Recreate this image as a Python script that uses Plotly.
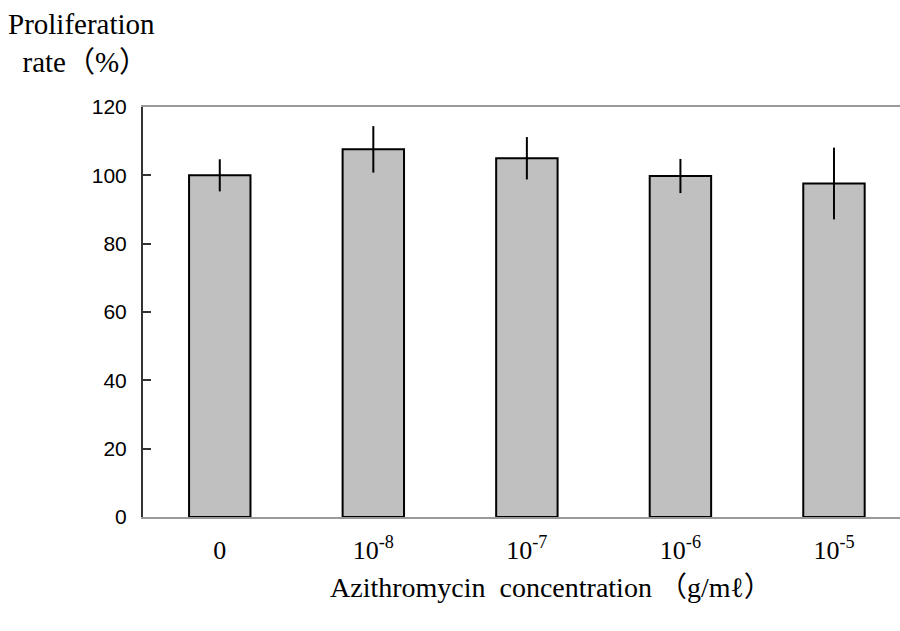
import plotly.graph_objects as go

categories = ["0", "10<sup>-8</sup>", "10<sup>-7</sup>", "10<sup>-6</sup>", "10<sup>-5</sup>"]
values = [100.0, 107.6, 105.0, 99.8, 97.6]
errors = [4.7, 6.8, 6.2, 5.0, 10.5]
y_ticks = [0, 20, 40, 60, 80, 100, 120]

fig = go.Figure()
fig.add_trace(go.Bar(
    x=list(range(len(categories))),
    y=values,
    width=0.40,
    marker=dict(color="#c0c0c0", line=dict(color="black", width=2)),
    error_y=dict(type="data", array=errors, visible=True, color="black",
                 thickness=2, width=0),
))

fig.update_layout(
    width=900, height=631,
    margin=dict(l=143, r=0, t=107, b=114),
    plot_bgcolor="white", paper_bgcolor="white",
    showlegend=False,
    xaxis=dict(
        range=[-0.5, 4.43],
        tickmode="array", tickvals=list(range(len(categories))), ticktext=categories,
        showline=True, linecolor="#999999", linewidth=2, mirror=True,
        ticks="", showgrid=False, zeroline=False,
        tickfont=dict(family="Liberation Serif", size=26, color="black"),
        ticklabelstandoff=9,
    ),
    yaxis=dict(
        range=[0, 120],
        tickmode="array", tickvals=y_ticks,
        showline=True, linecolor="#333333", linewidth=2,
        ticks="inside", ticklen=8, tickwidth=1.5, tickcolor="#333333",
        showgrid=False, zeroline=False,
        tickfont=dict(family="Liberation Sans", size=21, color="black"),
        ticklabelstandoff=10,
    ),
    annotations=[
        dict(text="Proliferation<br>  rate（%）", xref="paper", yref="paper",
             x=-143/757, y=1 + 107/410, xanchor="left", yanchor="top",
             xshift=6, yshift=-6, showarrow=False, align="left",
             font=dict(family="Liberation Serif, Noto Sans CJK KR", size=29, color="black")),
        dict(text="Azithromycin  concentration （g/mℓ）", xref="paper", yref="paper",
             x=(551 - 143) / 757, y=0, xanchor="center", yanchor="middle",
             yshift=-70, showarrow=False,
             font=dict(family="Liberation Serif, Noto Sans CJK KR", size=28, color="black")),
    ],
)

fig.write_html("out.html")
